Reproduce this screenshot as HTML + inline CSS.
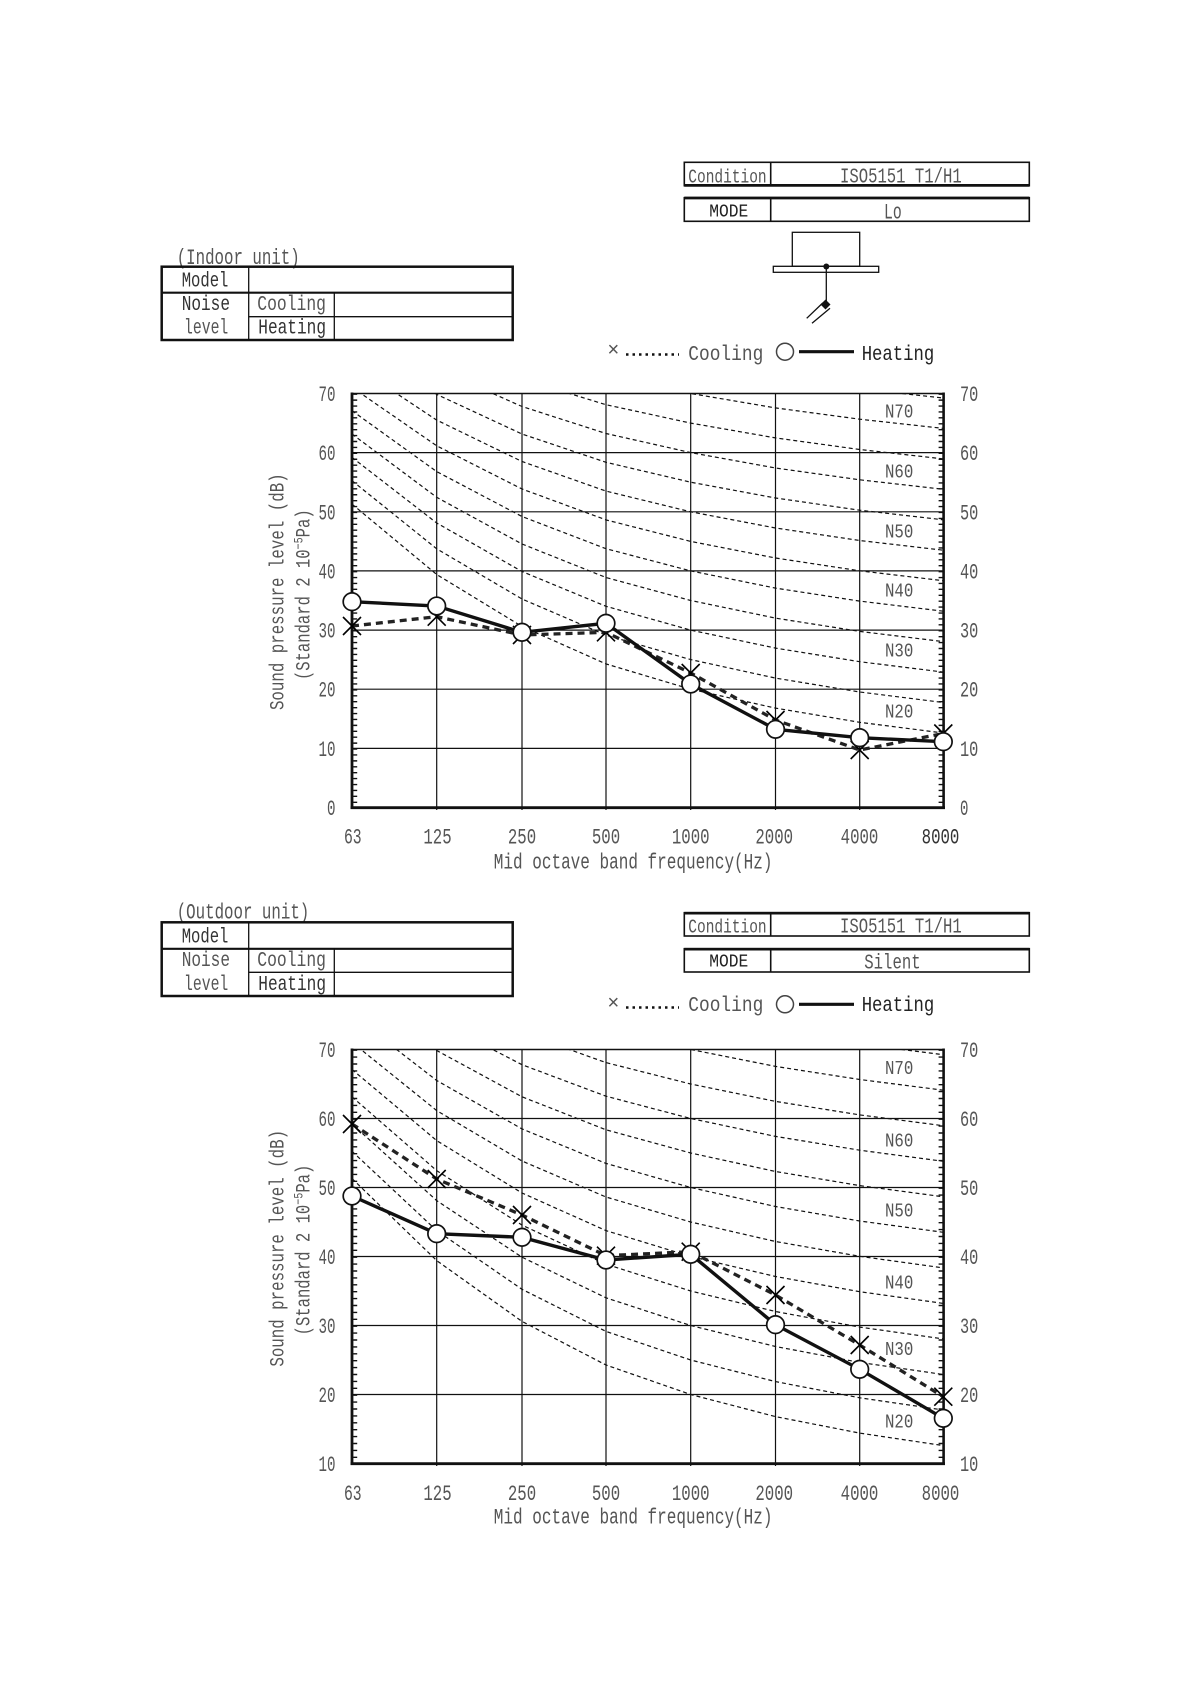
<!DOCTYPE html>
<html><head><meta charset="utf-8"><style>
html,body{margin:0;padding:0;background:#fff;}
svg{display:block;}
text{font-family:"Liberation Mono","Noto Sans CJK JP",monospace;fill:#555;}
</style></head><body>
<svg width="1191" height="1684" viewBox="0 0 1191 1684" xmlns="http://www.w3.org/2000/svg">
<defs>
<clipPath id="c1"><rect x="352" y="393.5" width="591.3" height="414"/></clipPath>
<clipPath id="c2"><rect x="352" y="1049.5" width="591.3" height="414"/></clipPath>
<path id="xm" d="M-9,-9L9,9M9,-9L-9,9" stroke="#000" stroke-width="1.6" fill="none"/>
</defs>
<rect width="1191" height="1684" fill="#fff"/>

<!-- ================= INDOOR HEADER ================= -->
<text x="176.7" y="264" font-size="22" textLength="123" lengthAdjust="spacingAndGlyphs">(Indoor unit)</text>
<g stroke="#111" fill="none">
<rect x="161.7" y="266.7" width="351" height="73.3" stroke-width="2.5"/>
<line x1="161.7" y1="292.7" x2="512.7" y2="292.7" stroke-width="2.2"/>
<line x1="248.7" y1="316.7" x2="512.7" y2="316.7" stroke-width="1.3"/>
<line x1="248.7" y1="266.7" x2="248.7" y2="340" stroke-width="1.3"/>
<line x1="334.3" y1="292.7" x2="334.3" y2="340" stroke-width="1.3"/>
</g>
<text x="181.7" y="286.7" font-size="21" textLength="46.7" lengthAdjust="spacingAndGlyphs" style="fill:#333">Model</text>
<text x="181.7" y="310" font-size="21" textLength="48.3" lengthAdjust="spacingAndGlyphs" style="fill:#333">Noise</text>
<text x="184" y="333.3" font-size="21" textLength="44.3" lengthAdjust="spacingAndGlyphs">level</text>
<text x="257.3" y="310" font-size="21" textLength="68.7" lengthAdjust="spacingAndGlyphs">Cooling</text>
<text x="258.3" y="333.3" font-size="21" textLength="67.7" lengthAdjust="spacingAndGlyphs" style="fill:#333">Heating</text>

<g stroke="#111" fill="none">
<rect x="684.3" y="162.3" width="345" height="23.4" stroke-width="1.6"/>
<line x1="684.3" y1="185.4" x2="1029.3" y2="185.4" stroke-width="2.8"/>
<line x1="770.7" y1="162.3" x2="770.7" y2="185.7" stroke-width="1.6"/>
<rect x="684.3" y="197.7" width="345" height="23.6" stroke-width="1.6"/>
<line x1="684.3" y1="198" x2="1029.3" y2="198" stroke-width="2.8"/>
<line x1="770.7" y1="197.7" x2="770.7" y2="221.3" stroke-width="1.6"/>
</g>
<text x="688.3" y="182.3" font-size="19.7" textLength="78.3" lengthAdjust="spacingAndGlyphs">Condition</text>
<text x="840" y="182.3" font-size="21" textLength="121.7" lengthAdjust="spacingAndGlyphs">ISO5151 T1/H1</text>
<text x="709.3" y="216.7" font-size="18" textLength="39" lengthAdjust="spacingAndGlyphs" style="fill:#222">MODE</text>
<text x="884" y="218.3" font-size="22" textLength="17.7" lengthAdjust="spacingAndGlyphs">Lo</text>

<!-- unit diagram -->
<g stroke="#111" fill="none" stroke-width="1.3">
<rect x="792.3" y="232.3" width="67.4" height="34"/>
<rect x="773.3" y="266.3" width="105.4" height="6"/>
<line x1="826.3" y1="266.5" x2="826.3" y2="302"/>
<line x1="822.7" y1="303" x2="806.7" y2="318.3"/>
<line x1="830" y1="308.3" x2="812" y2="323.3"/>
</g>
<circle cx="826.3" cy="266.5" r="3" fill="#111"/>
<polygon points="825.5,299.5 830.5,304.5 825.5,309.5 820.5,304.5" fill="#111"/>

<!-- legend indoor -->
<text x="613.3" y="356" font-size="20" text-anchor="middle" style="font-family:'Liberation Sans',sans-serif">×</text>
<line x1="626" y1="354.5" x2="679" y2="354.5" stroke="#111" stroke-width="2.5" stroke-dasharray="2.5 4"/>
<text x="688.3" y="360" font-size="21.5" textLength="75" lengthAdjust="spacingAndGlyphs">Cooling</text>
<circle cx="785" cy="351.7" r="8.5" fill="#fff" stroke="#444" stroke-width="1.5"/>
<line x1="799" y1="351.7" x2="854" y2="351.7" stroke="#111" stroke-width="3.2"/>
<text x="861.7" y="360" font-size="21.5" textLength="72.6" lengthAdjust="spacingAndGlyphs" style="fill:#222">Heating</text>

<!-- ================= INDOOR CHART ================= -->
<g clip-path="url(#c1)" fill="none" stroke="#111" stroke-width="1.2" stroke-dasharray="4 3">
<polyline points="352,504.1 436.7,574.5 522,626.5 606,663.9 690.7,689.2 775.5,708.1 859.7,722.3 943.3,733"/>
<polyline points="352,480.7 436.7,548.8 522,599 606,635.1 690.7,659.6 775.5,678.1 859.7,692 943.3,702.5"/>
<polyline points="352,457.4 436.7,523 522,571.5 606,606.3 690.7,630.1 775.5,648.1 859.7,661.7 943.3,672.1"/>
<polyline points="352,434 436.7,497.3 522,544 606,577.5 690.7,600.5 775.5,618.1 859.7,631.4 943.3,641.6"/>
<polyline points="352,410.7 436.7,471.6 522,516.5 606,548.7 690.7,570.9 775.5,588.1 859.7,601.1 943.3,611.2"/>
<polyline points="352,387.3 436.7,445.8 522,489 606,519.9 690.7,541.4 775.5,558 859.7,570.8 943.3,580.7"/>
<polyline points="352,364 436.7,420.1 522,461.5 606,491.1 690.7,511.8 775.5,528 859.7,540.5 943.3,550.2"/>
<polyline points="352,340.6 436.7,394.4 522,434 606,462.3 690.7,482.2 775.5,498 859.7,510.2 943.3,519.8"/>
<polyline points="352,317.2 436.7,368.6 522,406.5 606,433.5 690.7,452.6 775.5,468 859.7,479.8 943.3,489.3"/>
<polyline points="352,293.9 436.7,342.9 522,379 606,404.7 690.7,423.1 775.5,437.9 859.7,449.5 943.3,458.9"/>
<polyline points="352,270.5 436.7,317.2 522,351.5 606,375.9 690.7,393.5 775.5,407.9 859.7,419.2 943.3,428.4"/>
<polyline points="352,247.1 436.7,291.5 522,324 606,347.1 690.7,363.9 775.5,377.9 859.7,388.9 943.3,398"/>
</g>
<g stroke="#111" stroke-width="1.2">
<line x1="352" y1="748.4" x2="943.3" y2="748.4"/>
<line x1="352" y1="689.2" x2="943.3" y2="689.2"/>
<line x1="352" y1="630.1" x2="943.3" y2="630.1"/>
<line x1="352" y1="570.9" x2="943.3" y2="570.9"/>
<line x1="352" y1="511.8" x2="943.3" y2="511.8"/>
<line x1="352" y1="452.6" x2="943.3" y2="452.6"/>
<line x1="436.7" y1="393.5" x2="436.7" y2="810"/>
<line x1="522" y1="393.5" x2="522" y2="810"/>
<line x1="606" y1="393.5" x2="606" y2="810"/>
<line x1="690.7" y1="393.5" x2="690.7" y2="810"/>
<line x1="775.5" y1="393.5" x2="775.5" y2="810"/>
<line x1="859.7" y1="393.5" x2="859.7" y2="810"/>
</g>
<g stroke="#111" fill="none">
<line x1="352" y1="393.5" x2="943.6" y2="393.5" stroke-width="1.6"/>
<line x1="352" y1="392.5" x2="352" y2="809" stroke-width="2.8"/>
<line x1="943.6" y1="392.5" x2="943.6" y2="809" stroke-width="2.6"/>
<line x1="350.6" y1="807.7" x2="945" y2="807.7" stroke-width="2.8"/>
<line x1="355.2" y1="393.5" x2="355.2" y2="807.5" stroke-width="4" stroke-dasharray="1.4 4.514"/>
<line x1="940.6" y1="393.5" x2="940.6" y2="807.5" stroke-width="4" stroke-dasharray="1.4 4.514"/>
</g>
<!-- data indoor -->
<polyline points="352,626 436.7,616.7 522,635 606,632.3 690.7,673 775.5,720 859.7,750 943.3,733.5" fill="none" stroke="#222" stroke-width="3.3" stroke-dasharray="7 5"/>
<polyline points="352,601.7 436.7,606 522,632.3 606,623.3 690.7,684 775.5,729.3 859.7,737.7 943.3,741.7" fill="none" stroke="#111" stroke-width="3.4"/>
<use href="#xm" x="352" y="626"/><use href="#xm" x="436.7" y="616.7"/><use href="#xm" x="522" y="635"/><use href="#xm" x="606" y="632.3"/><use href="#xm" x="690.7" y="673"/><use href="#xm" x="775.5" y="720"/><use href="#xm" x="859.7" y="750"/><use href="#xm" x="943.3" y="733.5"/>
<g fill="#fff" stroke="#111" stroke-width="1.7">
<circle cx="352" cy="601.7" r="8.8"/><circle cx="436.7" cy="606" r="8.8"/><circle cx="522" cy="632.3" r="8.8"/><circle cx="606" cy="623.3" r="8.8"/><circle cx="690.7" cy="684" r="8.8"/><circle cx="775.5" cy="729.3" r="8.8"/><circle cx="859.7" cy="737.7" r="8.8"/><circle cx="943.3" cy="741.7" r="8.8"/>
</g>
<!-- y tick labels indoor -->
<g font-size="22" text-anchor="end">
<text x="335.5" y="401" textLength="17" lengthAdjust="spacingAndGlyphs">70</text>
<text x="335.5" y="460.1" textLength="17" lengthAdjust="spacingAndGlyphs">60</text>
<text x="335.5" y="519.3" textLength="17" lengthAdjust="spacingAndGlyphs">50</text>
<text x="335.5" y="578.4" textLength="17" lengthAdjust="spacingAndGlyphs">40</text>
<text x="335.5" y="637.6" textLength="17" lengthAdjust="spacingAndGlyphs">30</text>
<text x="335.5" y="696.7" textLength="17" lengthAdjust="spacingAndGlyphs">20</text>
<text x="335.5" y="755.9" textLength="17" lengthAdjust="spacingAndGlyphs">10</text>
<text x="335.5" y="815" textLength="8.5" lengthAdjust="spacingAndGlyphs">0</text>
</g>
<g font-size="22">
<text x="960" y="401" textLength="18.3" lengthAdjust="spacingAndGlyphs">70</text>
<text x="960" y="460.1" textLength="18.3" lengthAdjust="spacingAndGlyphs">60</text>
<text x="960" y="519.3" textLength="18.3" lengthAdjust="spacingAndGlyphs">50</text>
<text x="960" y="578.4" textLength="18.3" lengthAdjust="spacingAndGlyphs">40</text>
<text x="960" y="637.6" textLength="18.3" lengthAdjust="spacingAndGlyphs">30</text>
<text x="960" y="696.7" textLength="18.3" lengthAdjust="spacingAndGlyphs">20</text>
<text x="960" y="755.9" textLength="18.3" lengthAdjust="spacingAndGlyphs">10</text>
<text x="960" y="815" textLength="8.4" lengthAdjust="spacingAndGlyphs">0</text>
</g>
<!-- N labels indoor -->
<g font-size="19.7">
<text x="885" y="417.3" textLength="28.3" lengthAdjust="spacingAndGlyphs">N70</text>
<text x="885" y="477.3" textLength="28.3" lengthAdjust="spacingAndGlyphs">N60</text>
<text x="885" y="537.3" textLength="28.3" lengthAdjust="spacingAndGlyphs">N50</text>
<text x="885" y="596.7" textLength="28.3" lengthAdjust="spacingAndGlyphs">N40</text>
<text x="885" y="656.7" textLength="28.3" lengthAdjust="spacingAndGlyphs">N30</text>
<text x="885" y="717.3" textLength="28.3" lengthAdjust="spacingAndGlyphs">N20</text>
</g>
<!-- x labels indoor -->
<g font-size="22" text-anchor="middle">
<text x="352.8" y="843.3" textLength="17.7" lengthAdjust="spacingAndGlyphs">63</text>
<text x="437.5" y="843.3" textLength="28.3" lengthAdjust="spacingAndGlyphs">125</text>
<text x="522" y="843.3" textLength="28.3" lengthAdjust="spacingAndGlyphs">250</text>
<text x="606" y="843.3" textLength="28.3" lengthAdjust="spacingAndGlyphs">500</text>
<text x="690.7" y="843.3" textLength="37.7" lengthAdjust="spacingAndGlyphs">1000</text>
<text x="774.2" y="843.3" textLength="37.7" lengthAdjust="spacingAndGlyphs">2000</text>
<text x="859.5" y="843.3" textLength="37.7" lengthAdjust="spacingAndGlyphs">4000</text>
<text x="940.5" y="843.3" textLength="37.7" lengthAdjust="spacingAndGlyphs" style="fill:#333">8000</text>
</g>
<text x="493.8" y="868.3" font-size="22" textLength="278.7" lengthAdjust="spacingAndGlyphs">Mid octave band frequency(Hz)</text>
<text transform="translate(283.3,591.7) rotate(-90)" font-size="20" text-anchor="middle" textLength="236.7" lengthAdjust="spacingAndGlyphs">Sound pressure level (dB)</text>
<text transform="translate(309.3,594.7) rotate(-90)" font-size="20" text-anchor="middle" textLength="170.7" lengthAdjust="spacingAndGlyphs">(Standard 2 10<tspan font-size="13" dy="-7">−5</tspan><tspan dy="7">Pa)</tspan></text>

<!-- ================= OUTDOOR HEADER ================= -->
<text x="176.7" y="918.3" font-size="22" textLength="132.6" lengthAdjust="spacingAndGlyphs">(Outdoor unit)</text>
<g stroke="#111" fill="none">
<rect x="161.7" y="922.3" width="351" height="73.7" stroke-width="2.5"/>
<line x1="161.7" y1="948.8" x2="512.7" y2="948.8" stroke-width="2.2"/>
<line x1="248.7" y1="972.3" x2="512.7" y2="972.3" stroke-width="1.3"/>
<line x1="248.7" y1="922.3" x2="248.7" y2="996" stroke-width="1.3"/>
<line x1="334.3" y1="948.8" x2="334.3" y2="996" stroke-width="1.3"/>
</g>
<text x="181.7" y="942.3" font-size="21" textLength="46.7" lengthAdjust="spacingAndGlyphs" style="fill:#333">Model</text>
<text x="181.7" y="966" font-size="21" textLength="48.3" lengthAdjust="spacingAndGlyphs">Noise</text>
<text x="184" y="990" font-size="21" textLength="44.3" lengthAdjust="spacingAndGlyphs">level</text>
<text x="257.3" y="966" font-size="21" textLength="68.7" lengthAdjust="spacingAndGlyphs">Cooling</text>
<text x="258.3" y="990" font-size="21" textLength="67.7" lengthAdjust="spacingAndGlyphs" style="fill:#333">Heating</text>

<g stroke="#111" fill="none">
<rect x="684.3" y="912.7" width="345" height="23.3" stroke-width="1.6"/>
<line x1="684.3" y1="913.2" x2="1029.3" y2="913.2" stroke-width="2.6"/>
<line x1="770.7" y1="912.7" x2="770.7" y2="936" stroke-width="1.6"/>
<rect x="684.3" y="948.7" width="345" height="23.3" stroke-width="1.6"/>
<line x1="684.3" y1="949.2" x2="1029.3" y2="949.2" stroke-width="2.6"/>
<line x1="770.7" y1="948.7" x2="770.7" y2="972" stroke-width="1.6"/>
</g>
<text x="688.3" y="932.3" font-size="19.7" textLength="78.3" lengthAdjust="spacingAndGlyphs">Condition</text>
<text x="840" y="932.3" font-size="21" textLength="121.7" lengthAdjust="spacingAndGlyphs">ISO5151 T1/H1</text>
<text x="709.3" y="966.7" font-size="18" textLength="39" lengthAdjust="spacingAndGlyphs" style="fill:#222">MODE</text>
<text x="864.3" y="968.3" font-size="21" textLength="56.3" lengthAdjust="spacingAndGlyphs">Silent</text>

<!-- legend outdoor -->
<text x="613.3" y="1009" font-size="20" text-anchor="middle" style="font-family:'Liberation Sans',sans-serif">×</text>
<line x1="626" y1="1007.5" x2="679" y2="1007.5" stroke="#111" stroke-width="2.5" stroke-dasharray="2.5 4"/>
<text x="688.3" y="1011" font-size="21.5" textLength="75" lengthAdjust="spacingAndGlyphs">Cooling</text>
<circle cx="785" cy="1004.3" r="8.5" fill="#fff" stroke="#444" stroke-width="1.5"/>
<line x1="799" y1="1004.3" x2="854" y2="1004.3" stroke="#111" stroke-width="3.2"/>
<text x="861.7" y="1011" font-size="21.5" textLength="72.6" lengthAdjust="spacingAndGlyphs" style="fill:#222">Heating</text>

<!-- ================= OUTDOOR CHART ================= -->
<g clip-path="url(#c2)" fill="none" stroke="#111" stroke-width="1.2" stroke-dasharray="4 3">
<polyline points="352,1178.5 436.7,1260.6 522,1321.4 606,1365 690.7,1394.5 775.5,1416.6 859.7,1433.1 943.3,1445.6"/>
<polyline points="352,1151.3 436.7,1230.6 522,1289.3 606,1331.4 690.7,1360 775.5,1381.6 859.7,1397.8 943.3,1410"/>
<polyline points="352,1124 436.7,1200.6 522,1257.2 606,1297.8 690.7,1325.5 775.5,1346.5 859.7,1362.4 943.3,1374.5"/>
<polyline points="352,1096.8 436.7,1170.6 522,1225.1 606,1264.2 690.7,1291 775.5,1311.5 859.7,1327.1 943.3,1338.9"/>
<polyline points="352,1069.5 436.7,1140.6 522,1193 606,1230.6 690.7,1256.5 775.5,1276.5 859.7,1291.7 943.3,1303.4"/>
<polyline points="352,1042.3 436.7,1110.6 522,1161 606,1197 690.7,1222 775.5,1241.5 859.7,1256.3 943.3,1267.9"/>
<polyline points="352,1015 436.7,1080.5 522,1128.9 606,1163.4 690.7,1187.5 775.5,1206.5 859.7,1221 943.3,1232.3"/>
<polyline points="352,987.7 436.7,1050.5 522,1096.8 606,1129.8 690.7,1153 775.5,1171.5 859.7,1185.6 943.3,1196.8"/>
<polyline points="352,960.5 436.7,1020.5 522,1064.7 606,1096.2 690.7,1118.5 775.5,1136.4 859.7,1150.2 943.3,1161.3"/>
<polyline points="352,933.2 436.7,990.5 522,1032.6 606,1062.6 690.7,1084 775.5,1101.4 859.7,1114.9 943.3,1125.7"/>
<polyline points="352,906 436.7,960.5 522,1000.5 606,1029 690.7,1049.5 775.5,1066.4 859.7,1079.5 943.3,1090.2"/>
<polyline points="352,878.7 436.7,930.5 522,968.4 606,995.4 690.7,1015 775.5,1031.4 859.7,1044.2 943.3,1054.7"/>
</g>
<g stroke="#111" stroke-width="1.2">
<line x1="352" y1="1394.5" x2="943.3" y2="1394.5"/>
<line x1="352" y1="1325.5" x2="943.3" y2="1325.5"/>
<line x1="352" y1="1256.5" x2="943.3" y2="1256.5"/>
<line x1="352" y1="1187.5" x2="943.3" y2="1187.5"/>
<line x1="352" y1="1118.5" x2="943.3" y2="1118.5"/>
<line x1="436.7" y1="1049.5" x2="436.7" y2="1466"/>
<line x1="522" y1="1049.5" x2="522" y2="1466"/>
<line x1="606" y1="1049.5" x2="606" y2="1466"/>
<line x1="690.7" y1="1049.5" x2="690.7" y2="1466"/>
<line x1="775.5" y1="1049.5" x2="775.5" y2="1466"/>
<line x1="859.7" y1="1049.5" x2="859.7" y2="1466"/>
</g>
<g stroke="#111" fill="none">
<line x1="352" y1="1049.5" x2="943.6" y2="1049.5" stroke-width="1.6"/>
<line x1="352" y1="1048.5" x2="352" y2="1465" stroke-width="2.8"/>
<line x1="943.6" y1="1048.5" x2="943.6" y2="1465" stroke-width="2.6"/>
<line x1="350.6" y1="1463.7" x2="945" y2="1463.7" stroke-width="2.8"/>
<line x1="355.2" y1="1049.5" x2="355.2" y2="1463.5" stroke-width="4" stroke-dasharray="1.4 5.5"/>
<line x1="940.6" y1="1049.5" x2="940.6" y2="1463.5" stroke-width="4" stroke-dasharray="1.4 5.5"/>
</g>
<!-- data outdoor -->
<polyline points="352,1124 436.7,1179 522,1215 606,1255.7 690.7,1251.7 775.5,1295 859.7,1345 943.3,1396.7" fill="none" stroke="#222" stroke-width="3.3" stroke-dasharray="7 5"/>
<polyline points="352,1196 436.7,1233.7 522,1237.3 606,1260 690.7,1254.3 775.5,1324.7 859.7,1369.3 943.3,1418.3" fill="none" stroke="#111" stroke-width="3.4"/>
<use href="#xm" x="352" y="1124"/><use href="#xm" x="436.7" y="1179"/><use href="#xm" x="522" y="1215"/><use href="#xm" x="606" y="1255.7"/><use href="#xm" x="690.7" y="1251.7"/><use href="#xm" x="775.5" y="1295"/><use href="#xm" x="859.7" y="1345"/><use href="#xm" x="943.3" y="1396.7"/>
<g fill="#fff" stroke="#111" stroke-width="1.7">
<circle cx="352" cy="1196" r="8.8"/><circle cx="436.7" cy="1233.7" r="8.8"/><circle cx="522" cy="1237.3" r="8.8"/><circle cx="606" cy="1260" r="8.8"/><circle cx="690.7" cy="1254.3" r="8.8"/><circle cx="775.5" cy="1324.7" r="8.8"/><circle cx="859.7" cy="1369.3" r="8.8"/><circle cx="943.3" cy="1418.3" r="8.8"/>
</g>
<!-- y tick labels outdoor -->
<g font-size="22" text-anchor="end">
<text x="335.5" y="1057" textLength="17" lengthAdjust="spacingAndGlyphs">70</text>
<text x="335.5" y="1126" textLength="17" lengthAdjust="spacingAndGlyphs">60</text>
<text x="335.5" y="1195" textLength="17" lengthAdjust="spacingAndGlyphs">50</text>
<text x="335.5" y="1264" textLength="17" lengthAdjust="spacingAndGlyphs">40</text>
<text x="335.5" y="1333" textLength="17" lengthAdjust="spacingAndGlyphs">30</text>
<text x="335.5" y="1402" textLength="17" lengthAdjust="spacingAndGlyphs">20</text>
<text x="335.5" y="1471" textLength="17" lengthAdjust="spacingAndGlyphs">10</text>
</g>
<g font-size="22">
<text x="960" y="1057" textLength="18.3" lengthAdjust="spacingAndGlyphs">70</text>
<text x="960" y="1126" textLength="18.3" lengthAdjust="spacingAndGlyphs">60</text>
<text x="960" y="1195" textLength="18.3" lengthAdjust="spacingAndGlyphs">50</text>
<text x="960" y="1264" textLength="18.3" lengthAdjust="spacingAndGlyphs">40</text>
<text x="960" y="1333" textLength="18.3" lengthAdjust="spacingAndGlyphs">30</text>
<text x="960" y="1402" textLength="18.3" lengthAdjust="spacingAndGlyphs">20</text>
<text x="960" y="1471" textLength="18.3" lengthAdjust="spacingAndGlyphs">10</text>
</g>
<!-- N labels outdoor -->
<g font-size="19.7">
<text x="885" y="1074" textLength="28.3" lengthAdjust="spacingAndGlyphs">N70</text>
<text x="885" y="1146.7" textLength="28.3" lengthAdjust="spacingAndGlyphs">N60</text>
<text x="885" y="1216.7" textLength="28.3" lengthAdjust="spacingAndGlyphs">N50</text>
<text x="885" y="1288.3" textLength="28.3" lengthAdjust="spacingAndGlyphs">N40</text>
<text x="885" y="1355" textLength="28.3" lengthAdjust="spacingAndGlyphs">N30</text>
<text x="885" y="1427.3" textLength="28.3" lengthAdjust="spacingAndGlyphs">N20</text>
</g>
<!-- x labels outdoor -->
<g font-size="22" text-anchor="middle">
<text x="352.8" y="1500" textLength="17.7" lengthAdjust="spacingAndGlyphs">63</text>
<text x="437.5" y="1500" textLength="28.3" lengthAdjust="spacingAndGlyphs">125</text>
<text x="522" y="1500" textLength="28.3" lengthAdjust="spacingAndGlyphs">250</text>
<text x="606" y="1500" textLength="28.3" lengthAdjust="spacingAndGlyphs">500</text>
<text x="690.7" y="1500" textLength="37.7" lengthAdjust="spacingAndGlyphs">1000</text>
<text x="774.2" y="1500" textLength="37.7" lengthAdjust="spacingAndGlyphs">2000</text>
<text x="859.5" y="1500" textLength="37.7" lengthAdjust="spacingAndGlyphs">4000</text>
<text x="940.5" y="1500" textLength="37.7" lengthAdjust="spacingAndGlyphs">8000</text>
</g>
<text x="493.8" y="1523.3" font-size="22" textLength="278.7" lengthAdjust="spacingAndGlyphs">Mid octave band frequency(Hz)</text>
<text transform="translate(283.3,1248.3) rotate(-90)" font-size="20" text-anchor="middle" textLength="236.7" lengthAdjust="spacingAndGlyphs">Sound pressure level (dB)</text>
<text transform="translate(309.3,1250) rotate(-90)" font-size="20" text-anchor="middle" textLength="170.7" lengthAdjust="spacingAndGlyphs">(Standard 2 10<tspan font-size="13" dy="-7">−5</tspan><tspan dy="7">Pa)</tspan></text>
</svg>
</body></html>
